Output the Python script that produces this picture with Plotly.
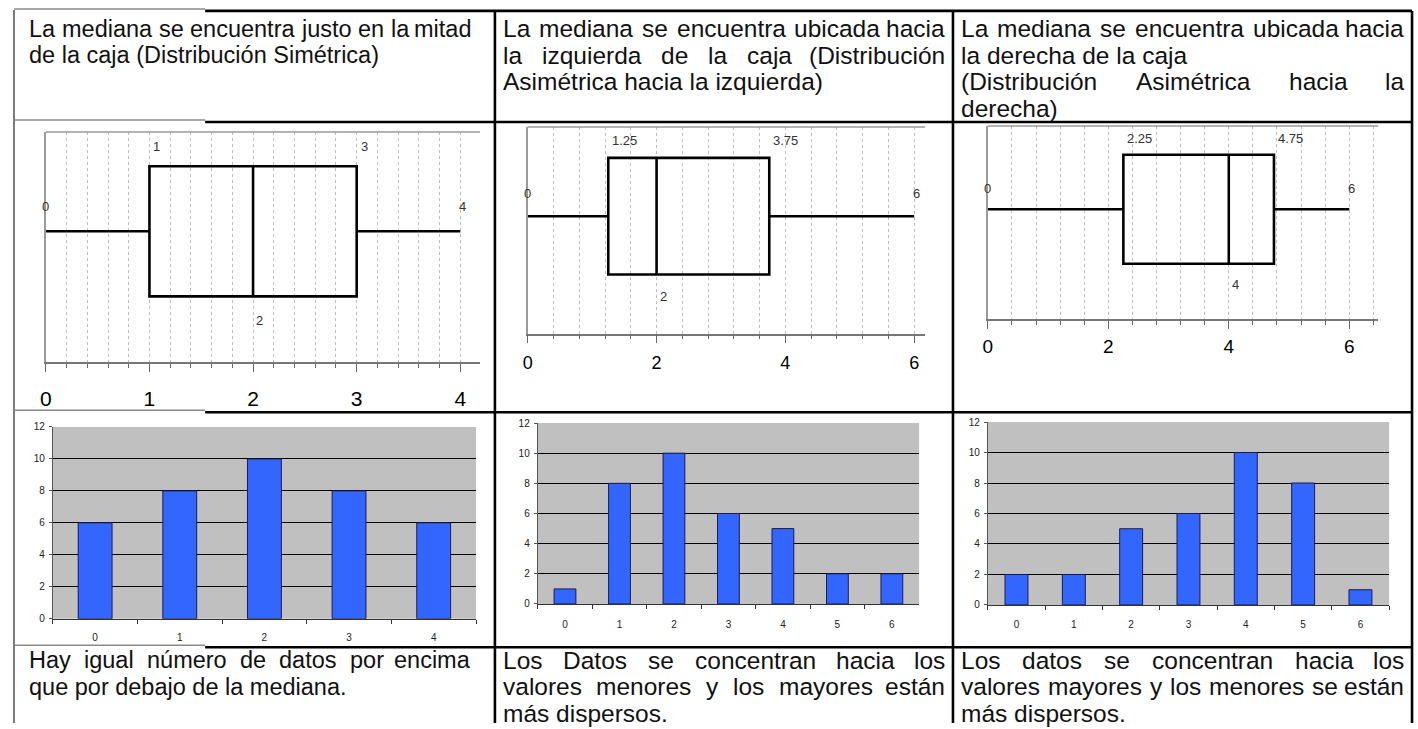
import plotly.graph_objects as go

W, H = 1418, 729

# ---------------- data ----------------
box_min = [0, 0, 0]
box_q1 = [1, 1.25, 2.25]
box_median = [2, 2, 4]
box_q3 = [3, 3.75, 4.75]
box_max = [4, 6, 6]
box_tickvals = [[0, 1, 2, 3, 4], [0, 2, 4, 6], [0, 2, 4, 6]]

bar_categories_1 = ["0", "1", "2", "3", "4"]
bar_values_1 = [6, 8, 10, 8, 6]
bar_categories_2 = ["0", "1", "2", "3", "4", "5", "6"]
bar_values_2 = [1, 8, 10, 6, 5, 2, 2]
bar_categories_3 = ["0", "1", "2", "3", "4", "5", "6"]
bar_values_3 = [2, 2, 5, 6, 10, 8, 1]
bar_y_ticks = [0, 2, 4, 6, 8, 10, 12]

header_1 = ["La mediana se encuentra justo en la mitad", "de la caja (Distribución Simétrica)"]
header_2 = ["La mediana se encuentra ubicada hacia", "la izquierda de la caja (Distribución",
            "Asimétrica hacia la izquierda)"]
header_3 = ["La mediana se encuentra ubicada hacia", "la derecha de la caja",
            "(Distribución Asimétrica hacia la", "derecha)"]
footer_1 = ["Hay igual número de datos por encima", "que por debajo de la mediana."]
footer_2 = ["Los Datos se concentran hacia los", "valores menores y los mayores están", "más dispersos."]
footer_3 = ["Los datos se concentran hacia los", "valores mayores y los menores se están", "más dispersos."]

# ---------------- layout geometry (pixels) ----------------
header_justify = [[True, False], [True, True, False], [True, False, True, False]]
footer_justify = [[True, False], [True, True, False], [True, True, False]]
text_cols = [(22, 468), (498, 944), (958, 1405)]
text_sizes = [23.5, 24.5, 24.5]
header_y = [23, 50, 77, 104]
footer_y = [665, 692, 719]
FONT = "Liberation Sans, Arial, sans-serif"
NARROW = "Liberation Sans Narrow, Liberation Sans, Arial, sans-serif"

box_dom = [(40, 476, 128, 362), (524, 923, 123, 333), (986, 1378, 122, 318)]
box_xmax = [4.19, 6.17, 6.48]
box_minor = [0.2, 0.4, 0.4]
box_tickfont = [21, 18, 19]
box_standoff = [9, 4, 2]
BOX_F = 0.568      # fraction of plot height below box center
BOX_W = 0.565      # box height as fraction of plot height

bar_dom = [(47, 472, 428, 623), (534, 917, 424, 608), (986, 1389, 423, 609)]
bar_x_standoff = [9, 11, 10]


def px(x):
    return x / W


def py(y):
    return 1 - y / H


CW = {'a': 556, 'b': 556, 'c': 500, 'd': 556, 'e': 556, 'f': 278, 'g': 556, 'h': 556, 'i': 222,
      'j': 222, 'k': 500, 'l': 222, 'm': 833, 'n': 556, 'o': 556, 'p': 556, 'q': 556, 'r': 333,
      's': 500, 't': 278, 'u': 556, 'v': 500, 'w': 722, 'x': 500, 'y': 500, 'z': 500,
      'á': 556, 'é': 556, 'í': 278, 'ó': 556, 'ú': 556, 'A': 667, 'D': 722, 'H': 722,
      'L': 556, 'S': 667, '(': 333, ')': 333, '.': 278, ' ': 278}


def tw(s, size):
    return sum(CW.get(c, 556) for c in s) / 1000 * size


fig = go.Figure()
annotations = []
shapes = []

# ---------------- box plots ----------------
for i in range(3):
    n = i + 1
    xa = "x" if n == 1 else f"x{n}"
    ya = "y" if n == 1 else f"y{n}"
    fig.add_trace(go.Box(
        q1=[box_q1[i]], median=[box_median[i]], q3=[box_q3[i]],
        lowerfence=[box_min[i]], upperfence=[box_max[i]],
        y=[0], orientation="h", width=BOX_W, whiskerwidth=0,
        line=dict(color="black", width=2.6), fillcolor="rgba(0,0,0,0)",
        boxpoints=False, showlegend=False, hoverinfo="skip",
        xaxis=xa, yaxis=ya))
    x0, x1, y0, y1 = box_dom[i]
    fig.layout[f"xaxis{n}"] = dict(
        domain=[px(x0), px(x1)], range=[0, box_xmax[i]], anchor=ya,
        tickvals=box_tickvals[i], ticks="outside", ticklen=8, tickcolor="#666", tickwidth=1,
        showline=True, linecolor="#777", linewidth=1.5, zeroline=False,
        showgrid=True, gridcolor="#bdbdbd", griddash="dot", gridwidth=1,
        minor=dict(dtick=box_minor[i], tick0=0, ticks="outside", ticklen=4, tickcolor="#666",
                   showgrid=True, gridcolor="#bdbdbd", griddash="dot", gridwidth=1),
        tickfont=dict(size=box_tickfont[i], color="black", family=FONT),
        ticklabelstandoff=box_standoff[i], fixedrange=True)
    fig.layout[f"yaxis{n}"] = dict(
        domain=[py(y1), py(y0)], range=[-BOX_F, 1 - BOX_F], anchor=xa,
        showticklabels=False, showgrid=False, zeroline=False, ticks="",
        showline=True, linecolor="#9a9a9a", linewidth=1.5, fixedrange=True)
    # top border of plot area
    shapes.append(dict(type="line", xref=f"{xa} domain", yref=f"{ya} domain",
                       x0=0, x1=1, y0=1, y1=1, line=dict(color="#9a9a9a", width=1.5)))
    # value labels
    lab = dict(xref=xa, yref=ya, showarrow=False,
               font=dict(size=13, color="#333", family=FONT))
    for val, yv, anc, dx in [(box_q1[i], 0.935, "left", 2), (box_q3[i], 0.935, "left", 2),
                             (box_min[i], 0.676, "center", 0), (box_max[i], 0.676, "center", 2),
                             (box_median[i], 0.18, "left", 1)]:
        annotations.append(dict(lab, x=val, y=yv - BOX_F, text=f"{val:g}",
                                xanchor=anc, yanchor="middle", xshift=dx))

# ---------------- bar charts ----------------
bar_cats = [bar_categories_1, bar_categories_2, bar_categories_3]
bar_vals = [bar_values_1, bar_values_2, bar_values_3]
for i in range(3):
    n = i + 4
    xa, ya = f"x{n}", f"y{n}"
    fig.add_trace(go.Bar(
        x=bar_cats[i], y=bar_vals[i],
        marker=dict(color="#3366FF", line=dict(color="#1c1c50", width=1)),
        showlegend=False, hoverinfo="skip", xaxis=xa, yaxis=ya))
    x0, x1, y0, y1 = bar_dom[i]
    fig.layout[f"xaxis{n}"] = dict(
        domain=[px(x0), px(x1)], type="category", anchor=ya,
        range=[-0.5, len(bar_cats[i]) - 0.5], tickson="boundaries",
        ticks="outside", ticklen=4, tickcolor="#333", showline=True, linecolor="#333",
        linewidth=1, showgrid=False, zeroline=False,
        tickfont=dict(size=10, color="#222", family=NARROW),
        ticklabelstandoff=bar_x_standoff[i], fixedrange=True)
    fig.layout[f"yaxis{n}"] = dict(
        domain=[py(y1), py(y0)], range=[0, 12], anchor=xa,
        tickvals=bar_y_ticks, ticks="outside", ticklen=3, tickcolor="#555",
        showline=True, linecolor="#555", linewidth=1, showgrid=False, zeroline=False,
        minor=dict(tickvals=bar_y_ticks[1:-1], showgrid=True, gridcolor="black",
                   gridwidth=1, ticks=""),
        tickfont=dict(size=10, color="#222", family=NARROW), ticklabelstandoff=2,
        fixedrange=True)
    shapes.append(dict(type="rect", xref=f"{xa} domain", yref=f"{ya} domain",
                       x0=0, x1=1, y0=0, y1=1, fillcolor="#C0C0C0",
                       line=dict(width=0), layer="below"))

# ---------------- table text ----------------


def add_paragraph(lines, flags, xr, ys, size):
    xl, xr_ = xr
    for line, just, y in zip(lines, flags, ys):
        base = dict(xref="paper", yref="paper", showarrow=False, yanchor="middle",
                    font=dict(size=size, color="#111", family=FONT), borderpad=0)
        words = line.split()
        if not just or len(words) < 2:
            annotations.append(dict(base, x=px(xl), y=py(y), text=line, xanchor="left"))
            continue
        widths = [tw(w, size) for w in words]
        gap = max((xr_ - xl - sum(widths)) / (len(words) - 1), 0.278 * size)
        x = xl
        for k, (w, wd) in enumerate(zip(words, widths)):
            if k == len(words) - 1:
                annotations.append(dict(base, x=px(xr_), y=py(y), text=w, xanchor="right"))
            else:
                annotations.append(dict(base, x=px(x), y=py(y), text=w, xanchor="left"))
            x += wd + gap


for lines, flags, xr, sz in zip([header_1, header_2, header_3], header_justify, text_cols, text_sizes):
    add_paragraph(lines, flags, xr, header_y, sz)
for lines, flags, xr, sz in zip([footer_1, footer_2, footer_3], footer_justify, text_cols, text_sizes):
    add_paragraph(lines, flags, xr, footer_y, sz)

# ---------------- table borders ----------------
LW = 2.6
for yv in [5, 118, 413, 652]:
    shapes.append(dict(type="line", xref="paper", yref="paper", x0=px(200), x1=px(1412),
                       y0=py(yv), y1=py(yv), line=dict(color="black", width=LW)))
    shapes.append(dict(type="line", xref="paper", yref="paper", x0=px(8), x1=px(200),
                       y0=py(yv - 2), y1=py(yv - 2), line=dict(color="#8a8a8a", width=1.5)))
for xv in [491, 951, 1412]:
    shapes.append(dict(type="line", xref="paper", yref="paper", x0=px(xv), x1=px(xv),
                       y0=py(5), y1=py(729), line=dict(color="black", width=LW)))
shapes.append(dict(type="line", xref="paper", yref="paper", x0=px(8), x1=px(8),
                   y0=py(4), y1=py(729), line=dict(color="#7a7a7a", width=2)))

fig.update_layout(
    width=W, height=H, margin=dict(l=0, r=0, t=0, b=0),
    paper_bgcolor="white", plot_bgcolor="rgba(0,0,0,0)",
    bargap=0.6, showlegend=False,
    annotations=annotations, shapes=shapes,
)

fig.write_html("out.html", config={"displayModeBar": False},
               post_script="document.body.style.margin='0px';")
